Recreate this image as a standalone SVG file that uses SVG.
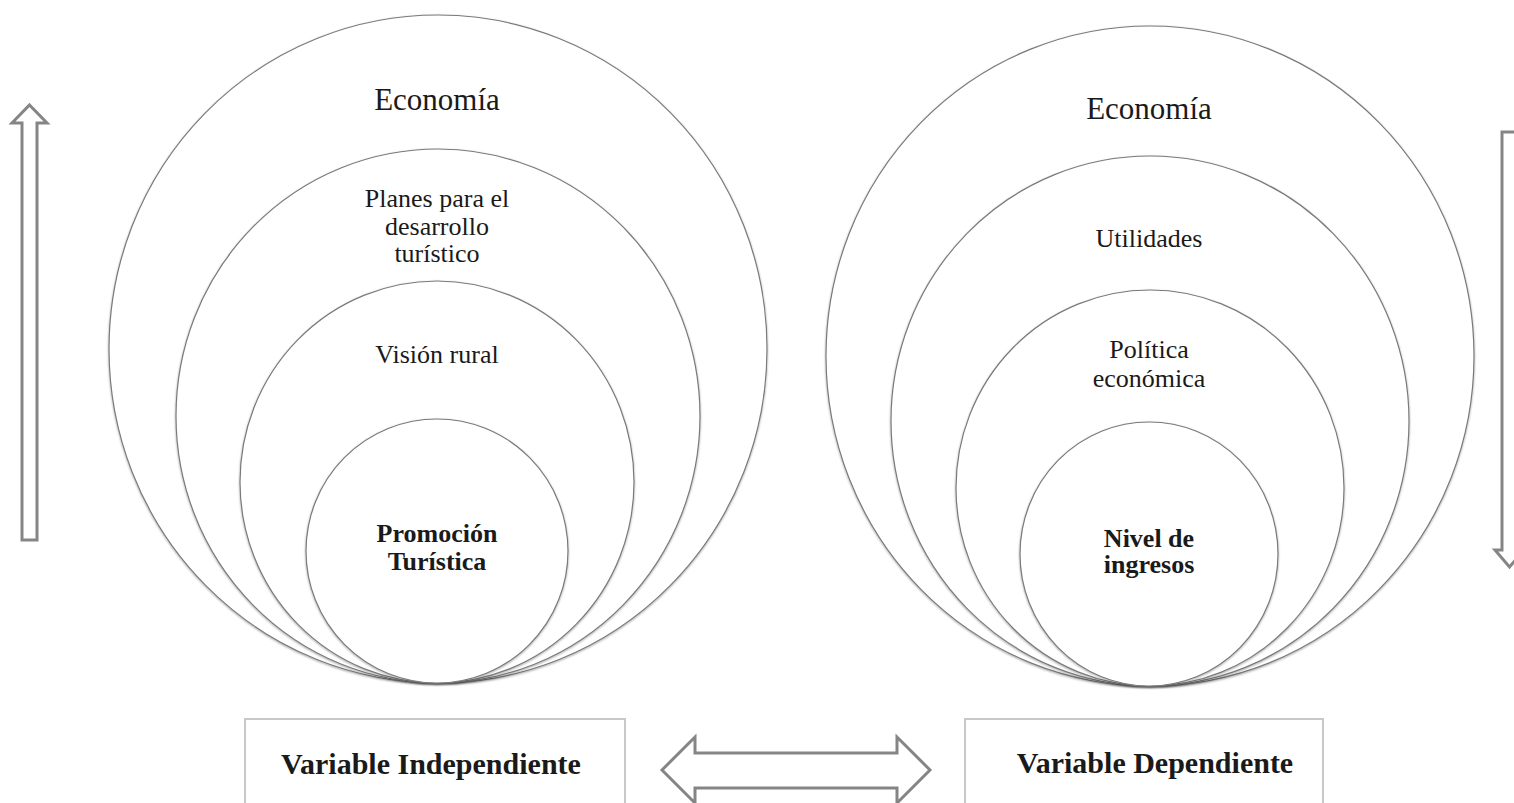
<svg xmlns="http://www.w3.org/2000/svg" width="1514" height="803" viewBox="0 0 1514 803">
  <style>
    .ring { fill: #ffffff; stroke: #7a7a7a; stroke-width: 1.2; }
    .lbl { font-family: "Liberation Serif", "Times New Roman", serif; fill: #1a1a1a; text-anchor: middle; }
    .big { font-size: 31px; }
    .mid { font-size: 26px; }
    .bold { font-size: 26px; font-weight: bold; }
    .var { font-size: 30px; font-weight: bold; }
    .box { fill: #ffffff; stroke: #c8c8c8; stroke-width: 2; }
    .hollow { fill: #ffffff; stroke: #858585; stroke-width: 3; stroke-linejoin: miter; }
  </style>
  <defs>
    <filter id="soft" x="-5%" y="-5%" width="110%" height="110%">
      <feDropShadow dx="0" dy="1" stdDeviation="1.2" flood-color="#000" flood-opacity="0.35"/>
    </filter>
  </defs>
  <rect width="1514" height="803" fill="#ffffff"/>

  <!-- independent variable: nested circles -->
  <g id="indep-economia">
    <ellipse class="ring" filter="url(#soft)" cx="438" cy="349" rx="329" ry="334"/>
    <text class="lbl big" x="437" y="110">Economía</text>
  </g>
  <g id="indep-planes">
    <ellipse class="ring" filter="url(#soft)" cx="438" cy="416" rx="262" ry="267"/>
    <text class="lbl mid" x="437" y="207">Planes para el</text>
    <text class="lbl mid" x="437" y="235">desarrollo</text>
    <text class="lbl mid" x="437" y="262">turístico</text>
  </g>
  <g id="indep-vision">
    <ellipse class="ring" filter="url(#soft)" cx="437" cy="482" rx="197" ry="201"/>
    <text class="lbl mid" x="437" y="363">Visión rural</text>
  </g>
  <g id="indep-promocion">
    <ellipse class="ring" filter="url(#soft)" cx="437" cy="551" rx="131" ry="132"/>
    <text class="lbl bold" x="437" y="542">Promoción</text>
    <text class="lbl bold" x="437" y="570">Turística</text>
  </g>

  <!-- dependent variable: nested circles -->
  <g id="dep-economia">
    <ellipse class="ring" filter="url(#soft)" cx="1150" cy="356" rx="324" ry="330"/>
    <text class="lbl big" x="1149" y="119">Economía</text>
  </g>
  <g id="dep-utilidades">
    <ellipse class="ring" filter="url(#soft)" cx="1150" cy="421" rx="259" ry="265"/>
    <text class="lbl mid" x="1149" y="247">Utilidades</text>
  </g>
  <g id="dep-politica">
    <ellipse class="ring" filter="url(#soft)" cx="1150" cy="488" rx="194" ry="198"/>
    <text class="lbl mid" x="1149" y="358">Política</text>
    <text class="lbl mid" x="1149" y="387">económica</text>
  </g>
  <g id="dep-nivel">
    <ellipse class="ring" filter="url(#soft)" cx="1149" cy="554" rx="129" ry="132"/>
    <text class="lbl bold" x="1149" y="547">Nivel de</text>
    <text class="lbl bold" x="1149" y="573">ingresos</text>
  </g>

  <!-- variable label boxes -->
  <g id="box-independiente">
    <rect class="box" x="245" y="719" width="380" height="100"/>
    <text class="lbl var" x="431" y="774">Variable Independiente</text>
  </g>
  <g id="box-dependiente">
    <rect class="box" x="965" y="719" width="358" height="100"/>
    <text class="lbl var" x="1155" y="773">Variable Dependiente</text>
  </g>

  <!-- block arrows -->
  <g id="connectors">
    <path class="hollow" d="M29.5,105 L47,123 L37,123 L37,540 L22,540 L22,123 L12,123 Z"/>
    <path class="hollow" d="M1502,132 L1517,132 L1517,550 L1524,550 L1509.5,567 L1495,550 L1502,550 Z"/>
    <path class="hollow" d="M662,770 L695,737 L695,753 L897,753 L897,737 L930,770 L897,803 L897,788 L695,788 L695,803 Z"/>
  </g>
</svg>
